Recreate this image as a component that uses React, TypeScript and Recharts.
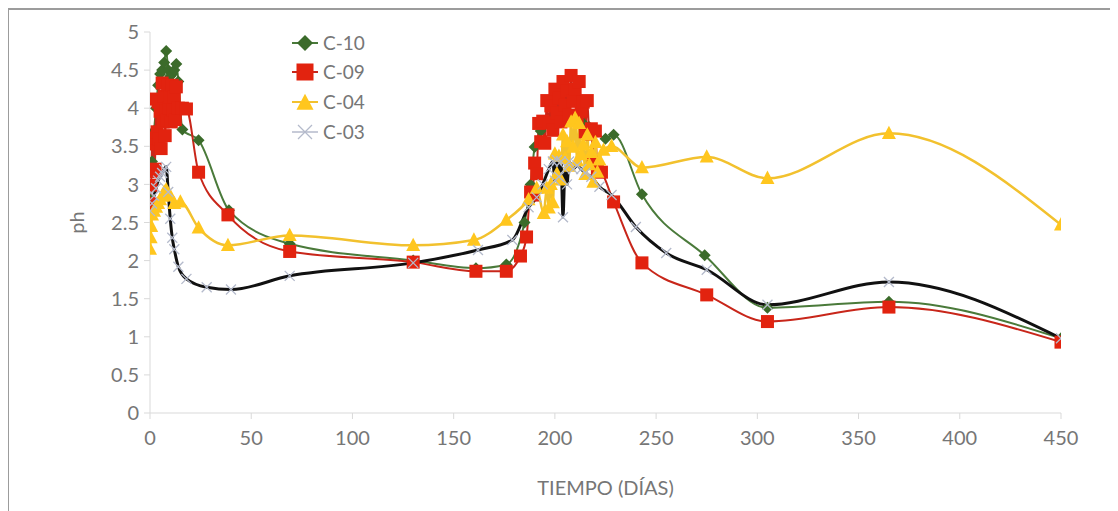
import React from 'react';
import { LineChart, Line, XAxis, YAxis, Legend } from 'recharts';

// ---- data ----
const c10Days = [0, 1, 2, 3, 4, 5, 6, 7, 8, 9, 10, 11, 12, 13, 14, 16, 24, 39, 69, 130, 161, 176, 185, 188, 190, 193, 196, 199, 202, 205, 208, 211, 214, 217, 220, 225, 229, 243, 274, 305, 365, 450];
const c10Ph = [2.8, 3.3, 3.7, 4.0, 4.3, 4.45, 4.5, 4.6, 4.75, 4.5, 4.42, 4.45, 4.5, 4.58, 4.35, 3.72, 3.58, 2.66, 2.22, 2.0, 1.9, 1.95, 2.5, 3.0, 3.49, 3.7, 3.8, 3.85, 3.9, 3.9, 3.9, 3.85, 3.8, 3.75, 3.7, 3.6, 3.65, 2.87, 2.07, 1.38, 1.46, 0.98];

const c09Days = [
  0, 0.5, 1, 1.5, 2, 2.5, 3, 3.5, 4, 4.5, 5, 5.5, 6, 6.5, 7, 7.5, 8, 8.5, 9, 9.5, 10, 10.5, 11, 11.5, 12, 12.5, 13, 14, 16, 18,
  24, 38.5, 69, 130, 161, 176, 183, 186,
  188, 189, 190, 191, 192, 193, 194, 195, 196, 197, 198, 199, 200, 201, 202, 203, 204, 205, 206, 207, 208, 209, 210, 211, 212, 213, 214, 215, 216, 217, 218, 219, 220, 221,
  223, 229, 243, 275, 305, 365, 450,
];
const c09Ph = [
  2.75, 2.99, 3.53, 3.17, 3.61, 3.2, 4.12, 3.69, 4.08, 3.6, 3.96, 3.47, 4.33, 3.82, 4.16, 3.64, 3.96, 3.85, 4.3, 4.0, 4.15, 3.82, 4.3, 3.98, 4.15, 3.85, 4.28, 4.0, 4.0, 3.99,
  3.16, 2.6, 2.12, 1.98, 1.86, 1.86, 2.06, 2.31,
  2.9, 2.86, 3.28, 3.14, 3.8, 3.56, 3.83, 3.54, 4.1, 3.81, 4.03, 3.71, 4.25, 3.94, 4.13, 3.82, 4.35, 4.04, 4.23, 3.91, 4.43, 4.09, 4.25, 3.89, 4.35, 3.96, 4.08, 3.69, 4.1, 3.66, 3.73, 3.29, 3.7, 3.21,
  3.16, 2.77, 1.97, 1.55, 1.2, 1.39, 0.93,
];

const c04Days = [
  0, 0.3, 0.6, 1, 2, 3, 4, 5, 6, 7, 8, 10, 12, 15, 24, 38.5, 69, 130, 160, 176, 187, 191, 194.5,
  196, 197, 198, 199, 200, 201, 202, 203, 204, 205, 206, 207, 208, 209, 210, 211, 212, 213, 214, 215, 216, 217, 218, 219, 220, 221, 222,
  224, 228, 243, 275, 305, 365, 450,
];
const c04Ph = [
  2.15, 2.3, 2.45, 2.6, 2.65, 2.7, 2.75, 2.8, 2.85, 2.9, 2.93, 2.85, 2.75, 2.77, 2.43, 2.2, 2.33, 2.2, 2.27, 2.53, 2.8, 2.95, 2.62,
  2.95, 2.69, 3.0, 2.76, 3.4, 3.14, 3.37, 3.06, 3.65, 3.34, 3.56, 3.24, 3.82, 3.49, 3.87, 3.31, 3.8, 3.39, 3.52, 3.13, 3.65, 3.26, 3.42, 3.03, 3.55, 3.16, 3.32,
  3.45, 3.5, 3.22, 3.36, 3.08, 3.67, 2.47,
];

const c03Days = [0, 1, 2, 3, 4, 5, 6, 7, 8, 9, 10, 11, 12, 14, 18, 28, 40, 69, 130, 162, 179, 187, 191, 194, 197, 199, 200, 201, 202, 203, 204, 205, 206, 207, 209, 211, 213, 215, 218, 222, 228, 240, 255, 275, 305, 365, 450];
const c03Ph = [2.65, 2.75, 2.85, 2.95, 3.05, 3.1, 3.15, 3.2, 3.23, 2.9, 2.55, 2.3, 2.15, 1.92, 1.76, 1.65, 1.62, 1.8, 1.97, 2.14, 2.27, 2.7, 2.83, 3.0, 3.2, 3.3, 3.05, 3.32, 3.1, 3.3, 2.57, 3.2, 3.0, 3.3, 3.2, 3.25, 3.2, 3.15, 3.1, 2.97, 2.86, 2.44, 2.1, 1.88, 1.42, 1.72, 0.98];

const xTicks = [0, 50, 100, 150, 200, 250, 300, 350, 400, 450];
const yTicks = [0, 0.5, 1, 1.5, 2, 2.5, 3, 3.5, 4, 4.5, 5];
const seriesNames = ['C-10', 'C-09', 'C-04', 'C-03'];

const toRows = (days: number[], ph: number[]) => days.map((d, i) => ({ day: d, ph: ph[i] }));
const c10Data = toRows(c10Days, c10Ph);
const c09Data = toRows(c09Days, c09Ph);
const c04Data = toRows(c04Days, c04Ph);
const c03Data = toRows(c03Days, c03Ph);

// ---- styles ----
const GREEN = '#3B6B2A';
const GREEN_LINE = '#4A7A3A';
const RED = '#E2230F';
const RED_LINE = '#C8261A';
const YELLOW = '#FFC61E';
const YELLOW_LINE = '#F2C12E';
const BLACK = '#111111';
const XGRAY = '#B4BACB';
const TEXT = '#767676';
const AXIS = '#D9D9D9';
const FONT = 'Lato, "Open Sans", sans-serif';

const Diamond = ({ cx, cy, r = 6, fill = GREEN }: any) => (
  <path d={`M${cx},${cy - r} L${cx + r},${cy} L${cx},${cy + r} L${cx - r},${cy} Z`} fill={fill} />
);
const Square = ({ cx, cy, s = 13, fill = RED }: any) => (
  <rect x={cx - s / 2} y={cy - s / 2} width={s} height={s} fill={fill} />
);
const Triangle = ({ cx, cy, s = 14, fill = YELLOW }: any) => (
  <path d={`M${cx},${cy - s * 0.55} L${cx + s / 2},${cy + s * 0.4} L${cx - s / 2},${cy + s * 0.4} Z`} fill={fill} />
);
const Cross = ({ cx, cy, r = 5, stroke = XGRAY }: any) => (
  <path d={`M${cx - r},${cy - r} L${cx + r},${cy + r} M${cx - r},${cy + r} L${cx + r},${cy - r}`} stroke={stroke} strokeWidth={1.3} fill="none" />
);

const dotDiamond = (p: any) => <Diamond key={`d${p.index}`} cx={p.cx} cy={p.cy} />;
const dotSquare = (p: any) => <Square key={`s${p.index}`} cx={p.cx} cy={p.cy} />;
const dotTriangle = (p: any) => <Triangle key={`t${p.index}`} cx={p.cx} cy={p.cy} />;
const dotCross = (p: any) => <Cross key={`x${p.index}`} cx={p.cx} cy={p.cy} />;

const LegendContent = () => {
  const markers = [
    <g key="a"><line x1={1} y1={10} x2={27} y2={10} stroke={GREEN_LINE} strokeWidth={2} /><Diamond cx={14} cy={10} r={8} /></g>,
    <g key="b"><line x1={1} y1={10} x2={27} y2={10} stroke={RED_LINE} strokeWidth={2} /><Square cx={14} cy={10} s={17} /></g>,
    <g key="c"><line x1={1} y1={10} x2={27} y2={10} stroke={YELLOW_LINE} strokeWidth={2} /><Triangle cx={14} cy={11} s={17} /></g>,
    <g key="d"><line x1={1} y1={10} x2={27} y2={10} stroke={XGRAY} strokeWidth={1.5} /><Cross cx={14} cy={10} r={7} /></g>,
  ];
  return (
    <div style={{ display: 'flex', flexDirection: 'column' }}>
      {seriesNames.map((n, i) => (
        <div key={n} style={{ display: 'flex', alignItems: 'center', height: 29.6 }}>
          <svg width={28} height={20} style={{ overflow: 'visible' }}>{markers[i]}</svg>
          <span style={{ marginLeft: 4, fontFamily: FONT, fontSize: 19, color: TEXT, lineHeight: '20px' }}>{n}</span>
        </div>
      ))}
    </div>
  );
};

const PhLabel = (props: any) => {
  const vb = props.viewBox || {};
  const x = vb.x - 14;
  const y = vb.y + vb.height / 2;
  return (
    <text x={x} y={y} transform={`rotate(-90, ${x}, ${y})`} textAnchor="middle" dominantBaseline="central" fill={TEXT} fontFamily={FONT} fontSize={20}>
      ph
    </text>
  );
};

export default function App() {
  return (
    <div style={{ width: 1110, height: 503, borderTop: '2px solid #9c9c9c', borderLeft: '2px solid #9c9c9c', marginLeft: -1, background: '#fff' }}>
      <LineChart width={1100} height={500} margin={{ top: 22, right: 48, bottom: 7, left: 81 }}>
        <XAxis
          type="number"
          dataKey="day"
          domain={[0, 450]}
          ticks={xTicks}
          allowDataOverflow
          height={90}
          stroke={AXIS}
          tickSize={6}
          tickMargin={12}
          tick={{ fill: TEXT, fontFamily: FONT, fontSize: 20 }}
          label={{ value: 'TIEMPO (DÍAS)', position: 'insideBottom', offset: 8, fill: TEXT, fontFamily: FONT, fontSize: 20 }}
        />
        <YAxis
          type="number"
          domain={[0, 5]}
          ticks={yTicks}
          width={60}
          stroke={AXIS}
          tickSize={6}
          tickMargin={5}
          tick={{ fill: TEXT, fontFamily: FONT, fontSize: 20 }}
          label={{ content: PhLabel }}
        />
        <Legend
          content={LegendContent}
          layout="vertical"
          verticalAlign="middle"
          align="center"
          wrapperStyle={{ position: 'absolute', left: 282, top: 18, width: 'auto', height: 'auto' }}
        />
        <Line data={c10Data} dataKey="ph" name="C-10" type="monotone" stroke={GREEN_LINE} strokeWidth={2} dot={dotDiamond} activeDot={false} isAnimationActive={false} />
        <Line data={c09Data} dataKey="ph" name="C-09" type="monotone" stroke={RED_LINE} strokeWidth={2} dot={dotSquare} activeDot={false} isAnimationActive={false} />
        <Line data={c04Data} dataKey="ph" name="C-04" type="monotone" stroke={YELLOW_LINE} strokeWidth={2.5} dot={dotTriangle} activeDot={false} isAnimationActive={false} />
        <Line data={c03Data} dataKey="ph" name="C-03" type="monotone" stroke={BLACK} strokeWidth={3} dot={dotCross} activeDot={false} isAnimationActive={false} />
      </LineChart>
    </div>
  );
}
